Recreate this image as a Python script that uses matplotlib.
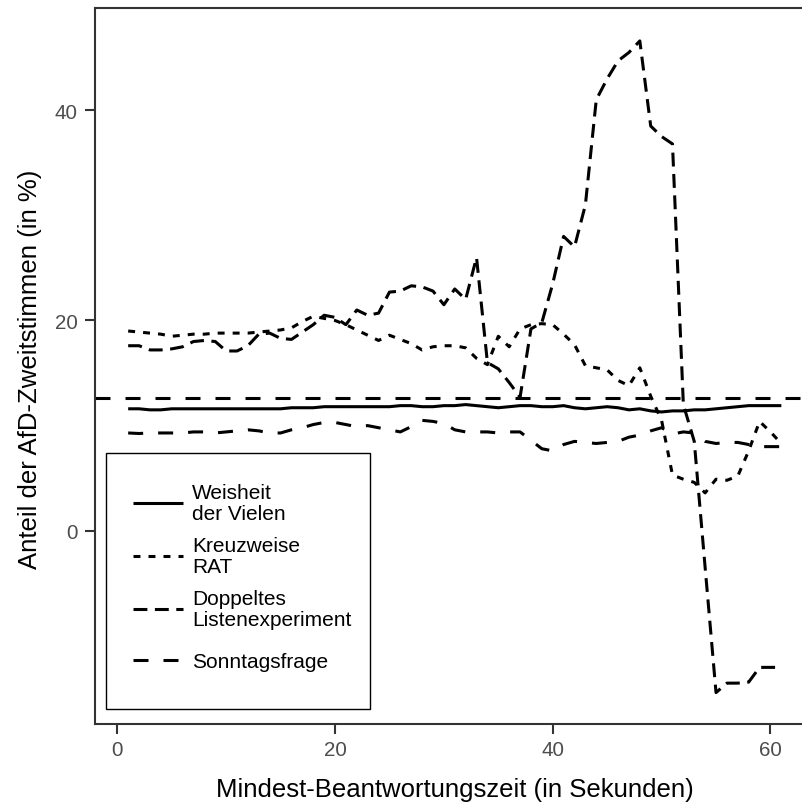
import matplotlib
matplotlib.use("Agg")
import matplotlib.pyplot as plt
from matplotlib.patches import Rectangle
import numpy as np

plt.rcParams['font.family'] = ['Liberation Sans', 'DejaVu Sans']
plt.rcParams['lines.scale_dashes'] = False

# ---- data ----
zeit = list(range(1, 62))

weisheit = [11.6, 11.6, 11.5, 11.5, 11.6, 11.6, 11.6, 11.6, 11.6, 11.6,
            11.6, 11.6, 11.6, 11.6, 11.6, 11.7, 11.7, 11.7, 11.8, 11.8,
            11.8, 11.8, 11.8, 11.8, 11.8, 11.9, 11.9, 11.8, 11.8, 11.9,
            11.9, 12.0, 11.9, 11.8, 11.7, 11.8, 11.9, 11.9, 11.8, 11.8,
            11.9, 11.7, 11.6, 11.7, 11.8, 11.7, 11.5, 11.6, 11.4, 11.3,
            11.4, 11.4, 11.5, 11.5, 11.6, 11.7, 11.8, 11.9, 11.9, 11.9, 11.9]

kreuzweise = [19.0, 18.9, 18.8, 18.7, 18.5, 18.6, 18.7, 18.7, 18.8, 18.8,
              18.8, 18.8, 18.9, 19.0, 19.1, 19.3, 19.9, 20.4, 20.2, 20.0,
              19.6, 19.1, 18.6, 18.1, 18.6, 18.2, 17.8, 17.2, 17.5, 17.6,
              17.6, 17.4, 16.4, 15.8, 18.5, 17.5, 19.2, 19.6, 19.7, 19.6,
              18.7, 17.7, 15.7, 15.5, 15.3, 14.3, 13.8, 15.5, 12.8, 10.5,
              5.3, 4.9, 4.6, 3.6, 4.9, 4.8, 5.2, 7.6, 10.4, 9.4, 8.3]

listenexperiment = [17.6, 17.6, 17.2, 17.2, 17.3, 17.5, 18.0, 18.1, 18.0, 17.1,
                    17.1, 17.6, 18.7, 18.8, 18.3, 18.2, 18.9, 19.6, 20.5, 20.3,
                    19.6, 21.0, 20.5, 20.7, 22.7, 22.8, 23.3, 23.2, 22.8, 21.5,
                    23.0, 22.0, 26.0, 16.0, 15.4, 14.1, 12.7, 19.2, 19.8, 23.5,
                    28.0, 27.0, 31.0, 41.0, 43.0, 44.7, 45.5, 46.6, 38.5, 37.5,
                    36.8, 12.0, 8.5, -3.5, -15.4, -14.5, -14.5, -14.4, -13.0, -13.0, -13.0]

sonntagsfrage = [9.3, 9.25, 9.3, 9.3, 9.3, 9.3, 9.4, 9.4, 9.3, 9.4,
                 9.5, 9.6, 9.5, 9.3, 9.3, 9.6, 9.8, 10.1, 10.3, 10.3,
                 10.1, 9.9, 10.0, 9.8, 9.6, 9.4, 9.9, 10.5, 10.4, 10.2,
                 9.6, 9.4, 9.4, 9.4, 9.3, 9.4, 9.4, 8.6, 7.8, 7.6,
                 8.2, 8.5, 8.4, 8.3, 8.4, 8.5, 8.9, 9.1, 9.5, 9.8,
                 9.2, 9.4, 9.3, 8.5, 8.3, 8.4, 8.4, 8.2, 8.0, 8.0, 8.0]

wahlergebnis = 12.6

labels = ["Weisheit\nder Vielen", "Kreuzweise\nRAT",
          "Doppeltes\nListenexperiment", "Sonntagsfrage"]
x_ticks = [0, 20, 40, 60]
y_ticks = [0, 20, 40]
x_title = "Mindest-Beantwortungszeit (in Sekunden)"
y_title = "Anteil der AfD-Zweitstimmen (in %)"

# ---- figure ----
W, H = 803, 804
fig = plt.figure(figsize=(W / 100, H / 100), dpi=100)
left_px, right_px, top_px, bottom_px = 95.5, 814.0, 9.0, 724.5
ax = fig.add_axes([left_px / W, 1 - bottom_px / H,
                   (right_px - left_px) / W, (bottom_px - top_px) / H])

lw = 2.2
h1, = ax.plot(zeit, weisheit, color='black', lw=lw, linestyle='-',
              solid_capstyle='butt')
h2, = ax.plot(zeit, kreuzweise, color='black', lw=lw, linestyle=(0, (5.0, 5.8)),
              dash_capstyle='butt')
h3, = ax.plot(zeit, listenexperiment, color='black', lw=lw,
              linestyle=(0, (10.0, 5.4)), dash_capstyle='butt')
h4, = ax.plot(zeit, sonntagsfrage, color='black', lw=lw,
              linestyle=(0, (10.8, 10.8)), dash_capstyle='butt')
ax.axhline(wahlergebnis, color='black', lw=lw, linestyle=(0, (10.8, 10.8)),
           dash_capstyle='butt')

ax.set_xlim(-2, 64)
ax.set_ylim(-18.34, 49.73)
ax.set_xticks(x_ticks)
ax.set_yticks(y_ticks)

axcol = '#333333'
for s in ['left', 'bottom', 'top', 'right']:
    ax.spines[s].set_color(axcol)
    ax.spines[s].set_linewidth(1.5)
ax.tick_params(axis='both', colors=axcol, length=7.5, width=1.5,
               labelcolor='#4D4D4D', labelsize=14.8)
ax.tick_params(axis='x', pad=4.3)
ax.tick_params(axis='y', pad=5.5)

ax.set_xlabel(x_title, fontsize=18.5, color='black')
ax.set_ylabel(y_title, fontsize=18.5, color='black')
ax.xaxis.set_label_coords(0.5, -(790 - bottom_px) / (bottom_px - top_px))
ax.yaxis.set_label_coords(-(left_px - 30) / (right_px - left_px), 0.497)
ax.xaxis.label.set_va('center')
ax.yaxis.label.set_va('center')

# legend frame
bx0, bx1, by0, by1 = 106, 370, 454, 710
ax.add_patch(Rectangle((bx0 / W, 1 - by1 / H), (bx1 - bx0) / W, (by1 - by0) / H,
                       transform=fig.transFigure, facecolor='white',
                       edgecolor='black', lw=1.0, zorder=4))
fs = 15.0
fpx = fs * 100 / 72
common = dict(bbox_transform=fig.transFigure, frameon=False, fontsize=fs,
              handlelength=50 / fpx, handletextpad=9 / fpx,
              labelspacing=0.62, borderpad=0, borderaxespad=0)
leg1 = ax.legend([h1, h2, h3], labels[:3], loc='upper left',
                 bbox_to_anchor=(133 / W, 1 - 484 / H), **common)
leg1.set_zorder(5)
for t in leg1.get_texts():
    t.set_linespacing(1.13)
ax.add_artist(leg1)
leg2 = ax.legend([h4], labels[3:], loc='center left',
                 bbox_to_anchor=(133 / W, 1 - 663 / H), **common)
leg2.set_zorder(5)

fig.savefig('out.png', dpi=100)
